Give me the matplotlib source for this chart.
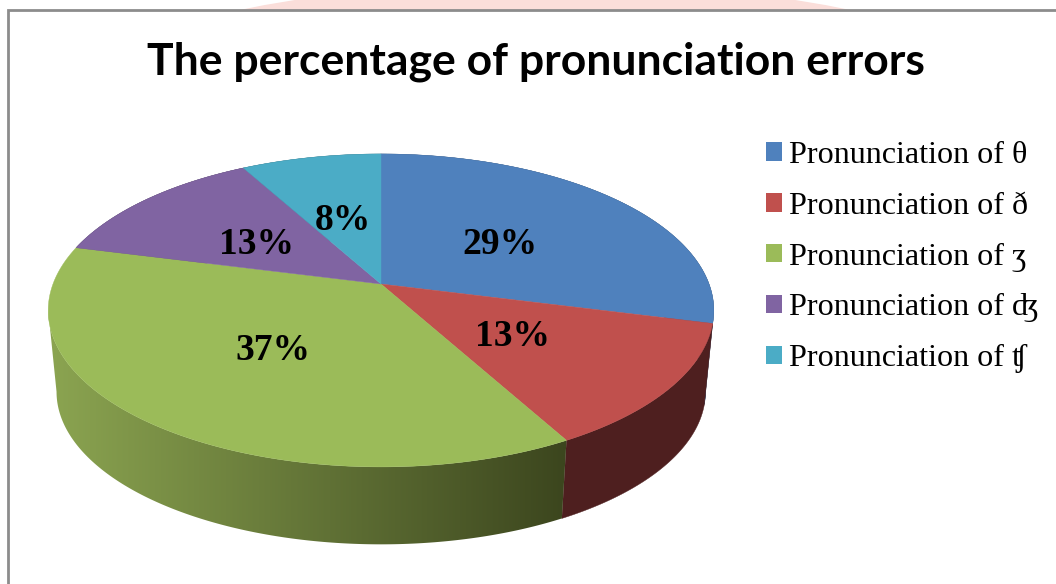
#!/usr/bin/python
import numpy as np
import matplotlib
matplotlib.use("Agg")
import matplotlib.pyplot as plt
from matplotlib.patches import Ellipse, Patch, Polygon, Rectangle

title = "The percentage of pronunciation errors"
sounds = ["θ", "ð", "ʒ", "ʤ", "ʧ"]
values = [29, 13, 37, 13, 8]
top_colors = ["#4f81bd", "#c0504d", "#9bbb59", "#8064a2", "#4bacc6"]
side_colors = ["#2a4568", "#4e1f1f", None, "#453658", "#285d6b"]
label_xy = [(500, 244), (513, 336), (273, 351), (257, 244), (343, 220)]

# pie geometry in pixels, tilted with a little perspective
cx, apex_y = 381, 284
radius, squash, persp = 328, 152, 0.169
bottom_scale, bottom_apex_y = 0.975, 366


def project(theta, scale=1.0, y0=apex_y):
    # theta runs clockwise from 12 o'clock
    u, v = np.sin(theta), np.cos(theta)
    w = 1 + persp * v
    return cx + scale * radius * u / w, y0 - scale * squash * v / w


def green_shade(x):
    t = np.clip((x - 57) / (563 - 57), 0, 1)
    light, dark = np.array([138, 163, 80]), np.array([60, 70, 30])
    return (light + (dark - light) * t[..., None]) / 255


fig = plt.figure(figsize=(10.56, 5.84), dpi=100)
ax = fig.add_axes([0, 0, 1, 1])
ax.axis("off")

# stamp showing above the chart frame
ax.add_patch(Ellipse((545, 100), 944, 236, fc="#fbdeda", ec="none", zorder=0))
ax.add_patch(Rectangle((8, 10), 1060, 590, fc="white", ec="#8c8c8c", lw=2, zorder=1))

edges = np.cumsum([0] + values) / sum(values) * 2 * np.pi

# side wall first, the top face covers whatever is behind it
for i in range(len(values)):
    th = np.linspace(edges[i], edges[i + 1], 200)
    x1, y1 = project(th)
    x2, y2 = project(th, bottom_scale, bottom_apex_y)
    if side_colors[i] is not None:
        wall = np.c_[np.r_[x1, x2[::-1]], np.r_[y1, y2[::-1]]]
        ax.add_patch(Polygon(wall, fc=side_colors[i], ec=side_colors[i], lw=0.3, zorder=2))
    else:
        # the green wall runs out to the left silhouette and darkens left to right
        n1, n2 = x1.argmin() + 1, x2.argmin() + 1
        wall = np.c_[np.r_[x1[:n1], x2[:n2][::-1]], np.r_[y1[:n1], y2[:n2][::-1]]]
        shade = Polygon(wall, fc="none", ec="none", transform=ax.transData)
        ax.add_patch(shade)
        xs = np.arange(40, 575)
        im = ax.imshow(green_shade(xs)[None, :, :], extent=(40, 575, 560, 300), aspect="auto",
                       interpolation="bilinear", zorder=2)
        im.set_clip_path(shade)

ax.set_xlim(0, 1056)
ax.set_ylim(584, 0)

# top face
for i in range(len(values)):
    th = np.linspace(edges[i], edges[i + 1], 200)
    x, y = project(th)
    ax.fill(np.r_[cx, x], np.r_[apex_y, y], color=top_colors[i], lw=0.3, zorder=3)

for val, (lx, ly) in zip(values, label_xy):
    ax.text(lx, ly, f"{val}%", ha="center", va="center", fontsize=27, fontweight="bold",
            family="Liberation Serif", color="black", zorder=4)

ax.text(536, 75, title, ha="center", va="baseline", fontsize=32, fontweight="bold",
        family="Lato", color="black", zorder=4)

handles = [Patch(fc=c, ec="none") for c in top_colors]
labels = [f"Pronunciation of {s}" for s in sounds]
leg = ax.legend(handles, labels, loc="upper left", bbox_to_anchor=(766, 141),
                bbox_transform=ax.transData, frameon=False, borderpad=0, borderaxespad=0,
                labelspacing=0.68, handlelength=0.5, handleheight=0.5, handletextpad=0.22,
                prop={"family": ["Liberation Serif", "DejaVu Serif"], "size": 23.1})
leg.set_zorder(4)

fig.savefig("out.png", dpi=100)
